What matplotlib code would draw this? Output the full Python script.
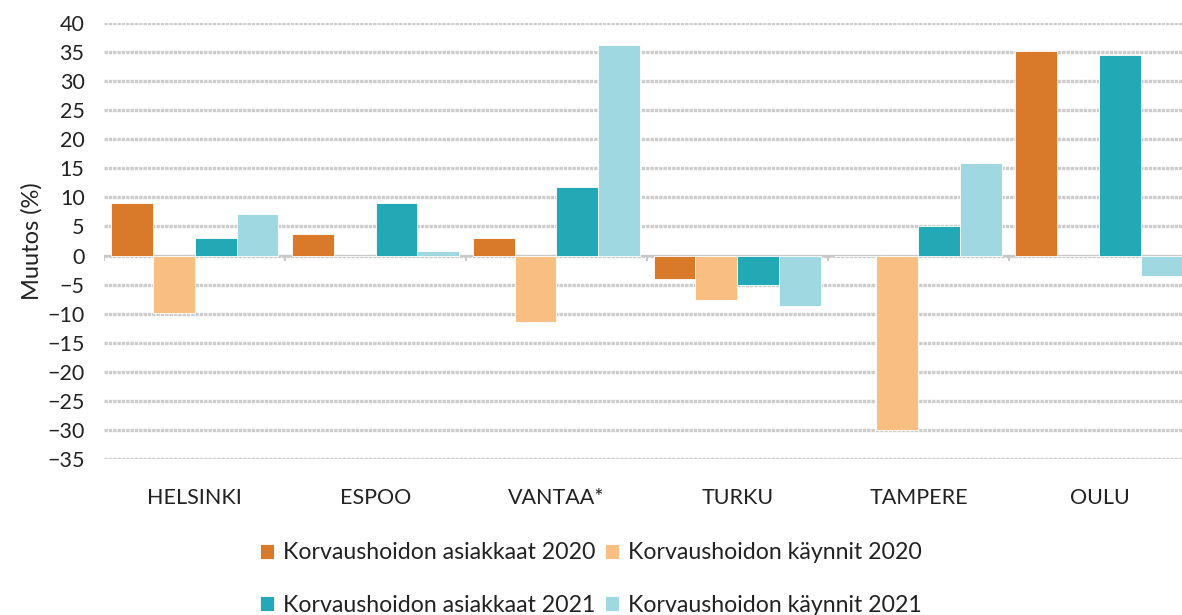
import numpy as np
import matplotlib
matplotlib.use("Agg")
import matplotlib.pyplot as plt

plt.rcParams['font.family'] = ['Lato', 'DejaVu Sans']

# Data (muutos %)
cities = ["HELSINKI", "ESPOO", "VANTAA*", "TURKU", "TAMPERE", "OULU"]
asiakkaat_2020 = [9.0, 3.7, 3.0, -4.0, 0.0, 35.2]
kaynnit_2020 = [-9.9, 0.0, -11.5, -7.6, -30.0, 0.0]
asiakkaat_2021 = [3.0, 9.0, 11.8, -5.1, 5.1, 34.5]
kaynnit_2021 = [7.1, 0.8, 36.2, -8.7, 15.9, -3.5]

series = [
    ("Korvaushoidon asiakkaat 2020", asiakkaat_2020, "#D97A2B"),
    ("Korvaushoidon käynnit 2020", kaynnit_2020, "#F9BE82"),
    ("Korvaushoidon asiakkaat 2021", asiakkaat_2021, "#22A9B5"),
    ("Korvaushoidon käynnit 2021", kaynnit_2021, "#A0D8E2"),
]

fig = plt.figure(figsize=(11.82, 6.15), dpi=100)
ax = fig.add_axes([0.088, 0.2537, 0.912, 0.7089])

x = np.arange(len(cities))
bar_w = 0.232
handles = {}
for i, (label, vals, color) in enumerate(series):
    offset = (i - 1.5) * bar_w
    b = ax.bar(x + offset, vals, bar_w, color=color, edgecolor="white",
               linewidth=0.6, label=label, zorder=3)
    handles[label] = b

ax.set_ylim(-35, 40)
ax.set_xlim(-0.5, 5.456)
ax.set_yticks(np.arange(-35, 41, 5))
ax.yaxis.grid(True, color="#cccccc", linewidth=2.4, linestyle=(0, (1, 0.3)), zorder=0)
ax.set_axisbelow(True)

for s in ax.spines.values():
    s.set_visible(False)

# zero line with small tick marks at group boundaries
ax.axhline(0, color="#c8c8c8", linewidth=1.5, zorder=2)
bounds = np.arange(len(cities) + 1) - 0.5
ax.vlines(bounds, -0.9, 0, color="#c8c8c8", linewidth=1.5, zorder=2)

ax.set_xticks(x)
ax.set_xticklabels(cities)
ax.tick_params(axis="x", length=0, pad=21, labelsize=15.5, colors="#222222")
ax.tick_params(axis="y", length=0, pad=14, labelsize=15.5, colors="#222222")
ax.set_ylabel("Muutos (%)", fontsize=17, color="#222222", labelpad=3)

order = ["Korvaushoidon asiakkaat 2020", "Korvaushoidon asiakkaat 2021",
         "Korvaushoidon käynnit 2020", "Korvaushoidon käynnit 2021"]
fig.legend([handles[k] for k in order], order, loc="lower center",
           bbox_to_anchor=(0.5, -0.035), ncol=2, frameon=False, fontsize=16.7,
           handlelength=0.6, handleheight=0.6, handletextpad=0.4,
           columnspacing=0.4, labelspacing=1.35, labelcolor="#222222")

fig.savefig("out.png", dpi=100)
